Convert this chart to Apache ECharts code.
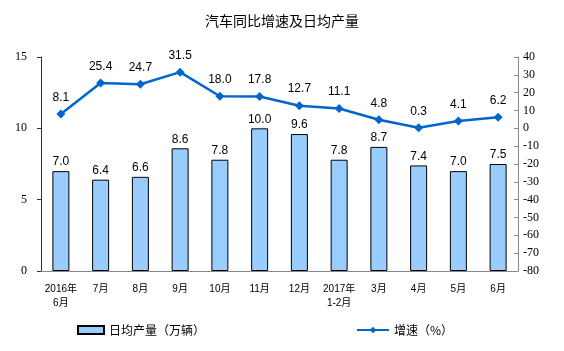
<!DOCTYPE html>
<html>
<head>
<meta charset="utf-8">
<script src="https://cdn.jsdelivr.net/npm/echarts@6/dist/echarts.min.js"></script>
<style>html,body{margin:0;padding:0;background:#fff}#main{width:564px;height:351px}</style>
</head>
<body>
<div id="main"></div>
<script>
var months = ['2016年\n6月','7月','8月','9月','10月','11月','12月','2017年\n1-2月','3月','4月','5月','6月'];
var output = [7.0,6.4,6.6,8.6,7.8,10.0,9.6,7.8,8.7,7.4,7.0,7.5];
var growth = [8.1,25.4,24.7,31.5,18.0,17.8,12.7,11.1,4.8,0.3,4.1,6.2];

var myChart = echarts.init(document.getElementById('main'));
var serif = '"Liberation Serif", "Times New Roman", serif';
var sans = '"Liberation Sans", Arial, "Noto Sans CJK SC", sans-serif';

myChart.setOption({
    animation: false,
    title: {
        text: '汽车同比增速及日均产量',
        left: 'center',
        top: 9,
        textStyle: {fontSize: 14, fontWeight: 'normal', color: '#000', fontFamily: '"Noto Sans CJK SC", sans-serif'}
    },
    legend: [{
        data: [{name: '日均产量（万辆）', icon: 'rect'}],
        left: 77, top: 324, padding: 0,
        itemWidth: 26, itemHeight: 8, itemGap: 4,
        textStyle: {fontSize: 12, color: '#000', fontFamily: '"Noto Sans CJK SC", sans-serif'}
    },{
        data: ['增速（%）'],
        left: 356, top: 324, padding: 0,
        itemWidth: 32, itemHeight: 8,
        textStyle: {fontSize: 12, color: '#000', fontFamily: '"Noto Sans CJK SC", sans-serif'}
    }],
    grid: {left: 41, right: 46, top: 57, bottom: 80},
    xAxis: {
        type: 'category',
        data: months,
        axisLine: {lineStyle: {color: '#888'}},
        axisTick: {alignWithLabel: false, length: 4, lineStyle: {color: '#888'}},
        axisLabel: {fontSize: 10, color: '#000', fontFamily: sans, margin: 11, lineHeight: 14, interval: 0}
    },
    yAxis: [{
        type: 'value',
        min: 0, max: 15, interval: 5,
        splitLine: {show: false},
        axisLine: {show: true, lineStyle: {color: '#333'}},
        axisTick: {show: true, length: 4, lineStyle: {color: '#333'}},
        axisLabel: {fontSize: 12, color: '#000', fontFamily: serif, margin: 14}
    },{
        type: 'value',
        min: -80, max: 40, interval: 10,
        splitLine: {show: false},
        axisLine: {show: true, lineStyle: {color: '#888'}},
        axisTick: {show: true, inside: true, length: 4, lineStyle: {color: '#888'}},
        axisLabel: {fontSize: 12, color: '#000', fontFamily: serif, margin: 5}
    }],
    series: [{
        name: '日均产量（万辆）',
        type: 'bar',
        data: output,
        barWidth: 17,
        itemStyle: {color: '#99CCFF', borderColor: '#000', borderWidth: 1},
        label: {show: true, position: 'top', distance: 3, fontSize: 12, color: '#000', fontFamily: sans,
            formatter: function(p){ return p.value.toFixed(1); }}
    },{
        name: '增速（%）',
        type: 'line',
        yAxisIndex: 1,
        data: growth,
        symbol: 'diamond',
        symbolSize: 9,
        lineStyle: {color: '#0066CC', width: 2.5},
        itemStyle: {color: '#0066CC'},
        label: {show: true, position: 'top', distance: 6, fontSize: 12, color: '#000', fontFamily: sans,
            formatter: function(p){ return p.value.toFixed(1); }}
    }]
});
</script>
</body>
</html>
